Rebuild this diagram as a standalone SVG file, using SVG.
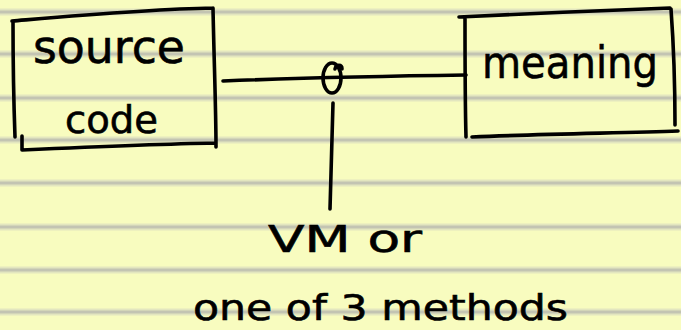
<svg xmlns="http://www.w3.org/2000/svg" width="681" height="330" viewBox="0 0 681 330">
  <defs>
    <style>
      .rule { stroke: #c3c4b2; stroke-width: 3; }
      .rule2 { stroke: #e3e6bf; stroke-width: 7; }
      .ink { fill: none; stroke: #000; stroke-width: 3.6; stroke-linecap: round; stroke-linejoin: round; }
      .hand { font-family: "DejaVu Sans", "Liberation Sans", sans-serif; fill: #000; stroke: #000; stroke-width: 0.6; }
    </style>
  </defs>
  <rect x="0" y="0" width="681" height="330" fill="#f8fcbf"/>
  <g id="paper-lines">
    <line class="rule2" x1="0" y1="12" x2="681" y2="12"/>
    <line class="rule2" x1="0" y1="54" x2="681" y2="54"/>
    <line class="rule2" x1="0" y1="98" x2="681" y2="98"/>
    <line class="rule2" x1="0" y1="140" x2="681" y2="140"/>
    <line class="rule2" x1="0" y1="183" x2="681" y2="183"/>
    <line class="rule2" x1="0" y1="227" x2="681" y2="227"/>
    <line class="rule2" x1="0" y1="270" x2="681" y2="270"/>
    <line class="rule2" x1="0" y1="312" x2="681" y2="312"/>
    <line class="rule" x1="0" y1="12" x2="681" y2="12"/>
    <line class="rule" x1="0" y1="54" x2="681" y2="54"/>
    <line class="rule" x1="0" y1="98" x2="681" y2="98"/>
    <line class="rule" x1="0" y1="140" x2="681" y2="140"/>
    <line class="rule" x1="0" y1="183" x2="681" y2="183"/>
    <line class="rule" x1="0" y1="227" x2="681" y2="227"/>
    <line class="rule" x1="0" y1="270" x2="681" y2="270"/>
    <line class="rule" x1="0" y1="312" x2="681" y2="312"/>
  </g>
  <g id="source-code">
    <path class="ink" d="M12 21 C60 17 150 9 213 8 M213 8 C214 60 216 110 216 147 M13 21 C13 70 14 110 15 137 M22 136 L22 150 C90 147 160 144 215 143"/>
    <text class="hand" x="33" y="63" font-size="47" textLength="152" lengthAdjust="spacingAndGlyphs">source</text>
    <text class="hand" x="65" y="133" font-size="37" textLength="93" lengthAdjust="spacingAndGlyphs">code</text>
  </g>
  <g id="meaning">
    <path class="ink" d="M459 17 C520 14 610 10 670 8 M671 9 C674 50 675 100 675 125 M465 18 C465 60 465 100 466 137 M472 137 C540 134 620 133 678 131"/>
    <text class="hand" x="482" y="78" font-size="45" textLength="176" lengthAdjust="spacingAndGlyphs">meaning</text>
  </g>
  <g id="connectors">
    <path class="ink" d="M223 81 C300 78 390 76 466 75"/>
    <ellipse class="ink" cx="332" cy="78" rx="9" ry="15"/>
    <path class="ink" d="M335 69 C336 64 342 64 342 69"/>
    <path class="ink" d="M333 103 C332 140 331 175 330 209"/>
  </g>
  <g id="label">
    <text class="hand" x="268" y="252" font-size="37" textLength="154" lengthAdjust="spacingAndGlyphs">VM  or</text>
    <text class="hand" x="193" y="320" font-size="36" textLength="375" lengthAdjust="spacingAndGlyphs">one of 3 methods</text>
  </g>
</svg>
